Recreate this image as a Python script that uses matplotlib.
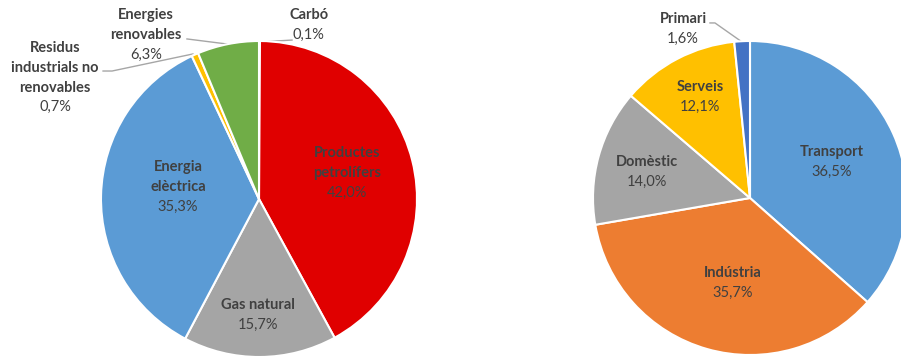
import matplotlib
matplotlib.use("Agg")
import matplotlib.pyplot as plt

plt.rcParams['font.family'] = ['Lato', 'DejaVu Sans']

# left pie - energy sources
fonts = ["Carbó", "Productes\npetrolífers", "Gas natural", "Energia\nelèctrica",
         "Residus\nindustrials no\nrenovables", "Energies\nrenovables"]
fonts_pct = [0.1, 42.0, 15.7, 35.3, 0.7, 6.3]
fonts_col = ["#E00000", "#E00000", "#A5A5A5", "#5B9BD5", "#FFC000", "#70AD47"]

# right pie - sectors
sectors = ["Transport", "Indústria", "Domèstic", "Serveis", "Primari"]
sectors_pct = [36.5, 35.7, 14.0, 12.1, 1.6]
sectors_col = ["#5B9BD5", "#ED7D31", "#A5A5A5", "#FFC000", "#4472C4"]

# label centres (axes data units, pie radius = 1)
fonts_lbl = [(0.316, 1.10), (0.557, 0.165), (-0.006, -0.734), (-0.513, 0.076),
             (-1.29, 0.766), (-0.715, 1.038)]
sectors_lbl = [(0.522, 0.229), (-0.108, -0.541), (-0.656, 0.166),
               (-0.318, 0.643), (-0.427, 1.076)]
fonts_lead = {0: [(0.006, 0.994), (0.209, 1.006)],
              4: [(-0.987, 0.810), (-0.930, 0.810), (-0.418, 0.918)],
              5: [(-0.456, 1.013), (-0.203, 0.981)]}
sectors_lead = {4: [(-0.255, 1.115), (-0.223, 1.115), (-0.051, 0.994)]}

W, H = 901, 358
fig = plt.figure(figsize=(W/100, H/100), dpi=100)
txt = "#404040"


def draw(rect, names, vals, cols, lbls, leads, r_px):
    ax = fig.add_axes(rect)
    ax.pie(vals, colors=cols, startangle=90, counterclock=False, radius=1,
           wedgeprops=dict(edgecolor="white", linewidth=1.5))
    ax.set_xlim(-1, 1)
    ax.set_ylim(-1, 1)
    ax.axis("off")
    h = 19.5 / r_px
    for name, v, (x, y) in zip(names, vals, lbls):
        k = name.count("\n") + 1
        ax.text(x, y + h/2, name, ha="center", va="center", fontsize=10.5,
                fontweight="bold", color=txt, linespacing=1.55, clip_on=False)
        ax.text(x, y - k*h/2, f"{v:.1f}%".replace(".", ","), ha="center",
                va="center", fontsize=10.5, color=txt, clip_on=False)
    for pts in leads.values():
        ax.plot([p[0] for p in pts], [p[1] for p in pts], color="#A6A6A6",
                lw=1, clip_on=False, zorder=0)
    return ax


draw([101/W, 1/H, 316/W, 316/H], fonts, fonts_pct, fonts_col,
     fonts_lbl, fonts_lead, 158)
draw([593/W, 3/H, 314/W, 314/H], sectors, sectors_pct, sectors_col,
     sectors_lbl, sectors_lead, 157)

fig.savefig("out.png", dpi=100)
